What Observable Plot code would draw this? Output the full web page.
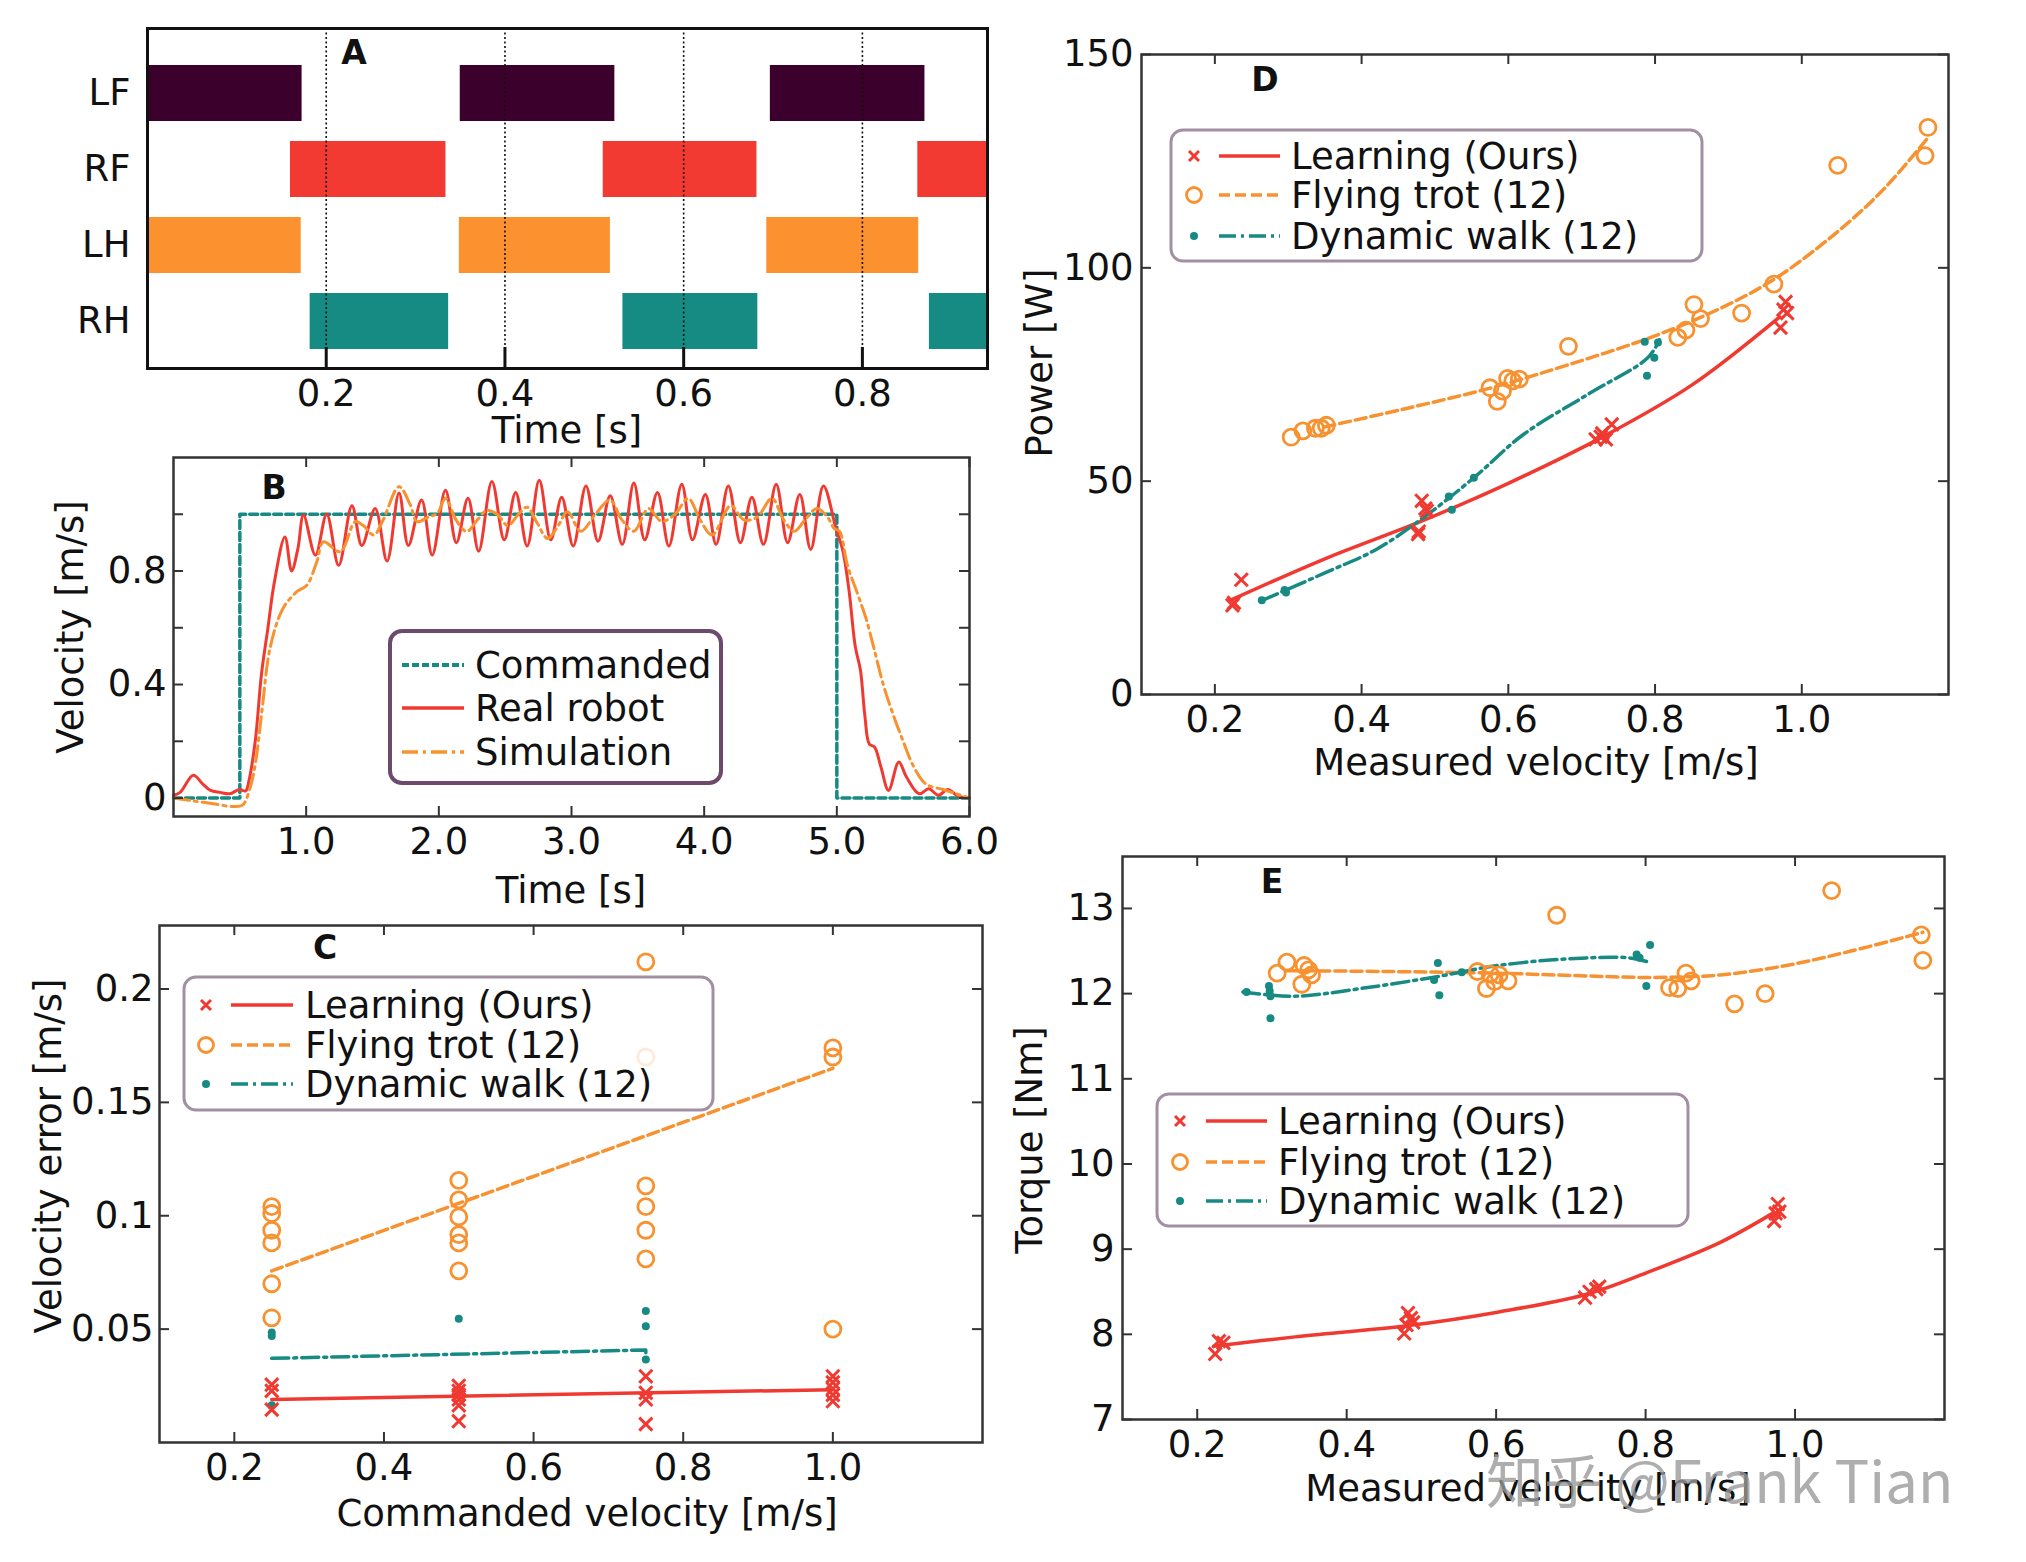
<!DOCTYPE html>
<html><head><meta charset="utf-8">
<script src="https://cdn.jsdelivr.net/npm/d3@7"></script>
<script src="https://cdn.jsdelivr.net/npm/@observablehq/plot@0.6"></script>
<style>
html,body{margin:0;padding:0;background:#fff;}
#page{position:relative;width:2026px;height:1562px;overflow:hidden;background:#fff;font-family:"DejaVu Sans";}
.panel{position:absolute;}
.panel svg{overflow:visible;}
#overlay{position:absolute;left:0;top:0;}
</style></head><body><div id="page"></div>
<script>
// ---------- DATA ----------
// Panel A: gait diagram
const legs = ["LF", "RF", "LH", "RH"];
const legColors = ["#3c002d", "#f23a32", "#fb912f", "#168b84"];
const stanceStart = [[0, 0.350, 0.697], [0.160, 0.510, 0.862], [0, 0.349, 0.693], [0.182, 0.532, 0.875]];
const stanceEnd = [[0.173, 0.523, 0.870], [0.334, 0.682, 0.94], [0.172, 0.518, 0.863], [0.337, 0.683, 0.94]];
const gaitTicks = [0.2, 0.4, 0.6, 0.8];

// Panel B: velocity tracking
const cmdT = [0, 0.5, 0.5, 5.0, 5.0, 6.0];
const cmdV = [0, 0, 1.0, 1.0, 0, 0];
const realT = [0,0.05,0.149,0.22,0.279,0.351,0.423,0.496,0.544,0.568,0.616,0.664,0.712,0.76,0.84,0.89,0.938,0.98,1.07,1.155,1.245,1.345,1.42,1.52,1.61,1.70,1.77,1.87,1.95,2.05,2.132,2.22,2.30,2.40,2.493,2.579,2.666,2.757,2.844,2.926,3.013,3.109,3.2,3.292,3.383,3.47,3.552,3.648,3.734,3.831,3.912,4.009,4.09,4.182,4.273,4.36,4.447,4.543,4.629,4.721,4.803,4.899,4.995,5.043,5.091,5.139,5.178,5.212,5.245,5.284,5.332,5.39,5.467,5.525,5.621,5.693,5.765,5.837,5.91,6.0];
const realV = [0.01,0.02,0.08,0.05,0.027,0.02,0.015,0.03,0.025,0.06,0.2,0.44,0.6,0.76,0.92,0.80,0.88,0.997,0.856,1.0,0.82,1.03,0.89,1.02,0.835,1.075,0.89,1.05,0.856,1.085,0.90,1.056,0.87,1.115,0.91,1.077,0.888,1.12,0.91,1.06,0.888,1.10,0.905,1.065,0.894,1.11,0.91,1.077,0.888,1.106,0.91,1.07,0.894,1.10,0.90,1.06,0.894,1.106,0.90,1.07,0.876,1.10,0.947,0.876,0.735,0.534,0.45,0.287,0.19,0.18,0.11,0.027,0.127,0.074,0.015,0.033,0.01,0.03,0.008,0.0];
const simT = [0,0.15,0.3,0.45,0.52,0.58,0.62,0.665,0.73,0.825,0.93,1.005,1.08,1.13,1.257,1.37,1.43,1.51,1.58,1.70,1.785,1.835,1.92,1.99,2.05,2.13,2.21,2.29,2.36,2.44,2.52,2.60,2.665,2.74,2.82,2.90,2.97,3.07,3.18,3.29,3.38,3.47,3.58,3.68,3.78,3.88,3.97,4.06,4.2,4.30,4.40,4.51,4.60,4.68,4.76,4.85,4.93,4.98,5.02,5.08,5.16,5.22,5.28,5.35,5.42,5.5,5.58,5.67,5.8,5.9,6.0];
const simV = [0,-0.01,-0.02,-0.03,-0.025,0.04,0.13,0.3,0.533,0.668,0.727,0.75,0.832,0.903,0.868,0.974,0.96,0.927,0.98,1.097,1.033,0.974,0.99,1.004,1.056,0.98,0.939,0.98,1.013,1.0,0.96,1.0,1.025,0.97,0.915,0.96,1.009,0.94,1.0,1.05,0.98,0.94,1.02,0.975,1.0,1.056,0.98,0.927,1.03,0.98,0.99,1.056,0.98,0.94,0.98,1.02,0.99,0.95,0.94,0.82,0.715,0.633,0.527,0.4,0.3,0.2,0.11,0.05,0.03,0.015,0.0];
const timeTicksB = [1, 2, 3, 4, 5, 6];
const velTicksB = [0, 0.2, 0.4, 0.6, 0.8, 1.0];
const velLabelsB = [0, 0.4, 0.8];

// Panel C: velocity error vs commanded velocity
const learnC_x = [0.25,0.25,0.25,0.5,0.5,0.5,0.5,0.5,0.5,0.75,0.75,0.75,0.75,1.0,1.0,1.0,1.0,1.0];
const learnC_y = [0.0255,0.0228,0.0145,0.025,0.0228,0.021,0.019,0.0164,0.0094,0.0292,0.0219,0.019,0.0081,0.0292,0.0265,0.0237,0.021,0.0182];
const learnCfit_x = [0.25, 1.0];
const learnCfit_y = [0.019, 0.0233];
const trotC_x = [0.25,0.25,0.25,0.25,0.25,0.25,0.5,0.5,0.5,0.5,0.5,0.5,0.75,0.75,0.75,0.75,0.75,0.75,1.0,1.0,1.0];
const trotC_y = [0.104,0.101,0.0936,0.088,0.070,0.055,0.1156,0.107,0.0995,0.0917,0.088,0.0757,0.212,0.170,0.1132,0.104,0.0936,0.081,0.174,0.170,0.050];
const trotCfit_x = [0.25, 1.0];
const trotCfit_y = [0.0757, 0.165];
const walkC_x = [0.25,0.25,0.25,0.5,0.75,0.75,0.75];
const walkC_y = [0.0485,0.047,0.0164,0.0546,0.058,0.0513,0.0366];
const walkCfit_x = [0.25, 0.75, 0.75];
const walkCfit_y = [0.0371, 0.0408, 0.0366];
const velTicksC = [0.2, 0.4, 0.6, 0.8, 1.0];
const errTicksC = [0.05, 0.1, 0.15, 0.2];

// Panel D: power vs measured velocity
const learnD_x = [0.224,0.226,0.236,0.477,0.478,0.482,0.487,0.489,0.719,0.726,0.733,0.728,0.741,0.971,0.975,0.978,0.980];
const learnD_y = [20.9,21.5,26.9,37.6,38.2,45.4,43.6,43.0,59.8,60.4,59.8,61.2,63.3,86.0,90.2,92.0,89.4];
const learnDfit_x = [0.22,0.35,0.48,0.6,0.73,0.85,0.97];
const learnDfit_y = [22,31.8,40.5,49.5,60.5,72.5,88.5];
const trotD_x = [0.304,0.320,0.337,0.345,0.352,0.575,0.585,0.592,0.599,0.606,0.615,0.682,0.831,0.842,0.853,0.862,0.918,0.962,1.049,1.168,1.172];
const trotD_y = [60.3,61.8,62.4,62.4,63.1,71.9,68.7,71.1,74.1,73.5,73.9,81.6,83.7,85.4,91.4,88.1,89.4,96.2,124.0,126.3,132.9];
const trotDfit_x = [0.349,0.45,0.575,0.682,0.799,0.889,0.964,1.049,1.112,1.172];
const trotDfit_y = [62.7,66.6,71.8,77.3,84.0,90.5,97.5,108.5,118.5,130.5];
const walkD_x = [0.264,0.295,0.297,0.519,0.523,0.553,0.789,0.799,0.804,0.786];
const walkD_y = [22.1,24.5,23.9,46.4,43.3,50.8,74.7,78.9,82.5,82.7];
const walkDfit_x = [0.264,0.35,0.42,0.487,0.553,0.621,0.71,0.79,0.806];
const walkDfit_y = [22,28.5,34,41.8,50.8,61,70.5,78.9,83.1];
const velTicksDE = [0.2, 0.4, 0.6, 0.8, 1.0];
const powTicksD = [0, 50, 100, 150];

// Panel E: torque vs measured velocity
const learnE_x = [0.224,0.229,0.235,0.477,0.480,0.482,0.486,0.489,0.719,0.725,0.734,0.738,0.972,0.974,0.977,0.979];
const learnE_y = [7.77,7.92,7.9,8.01,8.11,8.25,8.19,8.14,8.43,8.5,8.53,8.56,9.33,9.42,9.53,9.44];
const learnEfit_x = [0.222,0.331,0.48,0.602,0.725,0.812,0.9,0.97];
const learnEfit_y = [7.86,7.97,8.1,8.26,8.48,8.76,9.08,9.42];
const trotE_x = [0.307,0.320,0.340,0.343,0.349,0.353,0.575,0.587,0.592,0.598,0.604,0.616,0.681,0.832,0.843,0.854,0.861,0.919,0.960,1.049,1.169,1.171];
const trotE_y = [12.24,12.37,12.11,12.33,12.28,12.22,12.26,12.06,12.23,12.14,12.22,12.15,12.92,12.07,12.06,12.24,12.15,11.88,12.0,13.21,12.69,12.39];
const trotEfit_x = [0.32,0.45,0.602,0.712,0.812,0.9,0.988,1.075,1.171];
const trotEfit_y = [12.27,12.26,12.24,12.21,12.19,12.22,12.33,12.5,12.72];
const walkE_x = [0.266,0.296,0.297,0.298,0.298,0.522,0.517,0.524,0.554,0.788,0.792,0.806,0.801];
const walkE_y = [12.02,12.09,12.03,11.97,11.71,12.36,12.16,11.98,12.25,12.46,12.42,12.57,12.09];
const walkEfit_x = [0.261,0.331,0.419,0.515,0.602,0.699,0.778,0.804];
const walkEfit_y = [12.02,11.97,12.06,12.19,12.33,12.41,12.42,12.37];
const torTicksE = [7, 8, 9, 10, 11, 12, 13];

const seriesLabels = ["Learning (Ours)", "Flying trot (12)", "Dynamic walk (12)"];
const bLabels = ["Commanded", "Real robot", "Simulation"];

// ---------- STYLE ----------
const RED = "#f03a31", ORANGE = "#f8912f", TEAL = "#168a83";
const FRAME = "#333";
const FS = 37;
const page = document.getElementById("page");
const zip = (xs, ys) => xs.map((x, i) => ({x, y: ys[i]}));
const style = {fontSize: FS + "px", fontFamily: "DejaVu Sans", color: "#111", background: "transparent", overflow: "visible"};

function box(o) {
  return {width: o.W, height: o.H, marginLeft: o.fx0 - o.left, marginRight: o.left + o.W - o.fx1,
          marginTop: o.fy0 - o.top, marginBottom: o.top + o.H - o.fy1};
}
function place(svg, o) {
  const d = document.createElement("div");
  d.className = "panel"; d.style.left = o.left + "px"; d.style.top = o.top + "px";
  d.appendChild(svg); page.appendChild(d);
}
function inTicks(xt, yt, o, L) {
  const fw = o.fx1 - o.fx0, fh = o.fy1 - o.fy0;
  const st = {stroke: FRAME, strokeWidth: 2};
  return [
    Plot.tickX(xt, {x: d => d, insetTop: fh - L, ...st}),
    Plot.tickX(xt, {x: d => d, insetBottom: fh - L, ...st}),
    Plot.tickY(yt, {y: d => d, insetRight: fw - L, ...st}),
    Plot.tickY(yt, {y: d => d, insetLeft: fw - L, ...st})
  ];
}
function scatterMarks(L, Lf, T, Tf, W, Wf, curve) {
  return [
    Plot.line(Lf, {x: "x", y: "y", stroke: RED, strokeWidth: 3.5, curve}),
    Plot.line(Tf, {x: "x", y: "y", stroke: ORANGE, strokeWidth: 3.5, strokeDasharray: "11,5", curve}),
    Plot.line(Wf, {x: "x", y: "y", stroke: TEAL, strokeWidth: 3.5, strokeDasharray: "17,5,3,5", curve}),
    Plot.dot(T, {x: "x", y: "y", r: 8, stroke: ORANGE, strokeWidth: 2.8, fill: "none"}),
    Plot.dot(W, {x: "x", y: "y", r: 4, fill: TEAL, stroke: "none"}),
    Plot.dot(L, {x: "x", y: "y", r: 6, symbol: "times", stroke: RED, strokeWidth: 3, fill: "none"})
  ];
}

// ---------- PANEL A ----------
const oA = {left: 0, top: 0, W: 1000, H: 420, fx0: 147, fy0: 28, fx1: 987, fy1: 368};
const stanceRows = [];
legs.forEach((leg, i) => stanceStart[i].forEach((s, j) => stanceRows.push({leg, x1: s, x2: stanceEnd[i][j]})));
place(Plot.plot({
  ...box(oA), style,
  x: {domain: [0, 0.94]},
  y: {type: "band", domain: legs, paddingInner: 0.266, paddingOuter: 0.361, align: 0.65},
  color: {domain: legs, range: legColors},
  marks: [
    Plot.barX(stanceRows, {y: "leg", x1: "x1", x2: "x2", fill: "leg", inset: 0}),
    Plot.ruleX(gaitTicks, {x: d => d, stroke: "#111", strokeWidth: 1.6, strokeDasharray: "2,2.5"}),
    Plot.tickX(gaitTicks, {x: d => d, insetTop: (oA.fy1 - oA.fy0) - 21, stroke: "#111", strokeWidth: 3}),
    Plot.frame({stroke: "#111", strokeWidth: 3}),
    Plot.axisX(gaitTicks, {tickSize: 0, tickPadding: 11, tickFormat: d => d.toFixed(1), label: null}),
    Plot.axisY(legs, {tickSize: 0, tickPadding: 17, label: null})
  ]
}), oA);

// ---------- PANEL B ----------
const oB = {left: 0, top: 440, W: 1000, H: 440, fx0: 173, fy0: 457, fx1: 969, fy1: 816};
place(Plot.plot({
  ...box(oB), style,
  x: {domain: [0, 6]},
  y: {domain: [-0.065, 1.2]},
  marks: [
    Plot.line(zip(cmdT, cmdV), {x: "x", y: "y", stroke: TEAL, strokeWidth: 3.5, strokeDasharray: "8,4"}),
    Plot.line(zip(realT, realV), {x: "x", y: "y", stroke: RED, strokeWidth: 3, curve: "catmull-rom"}),
    Plot.line(zip(simT, simV), {x: "x", y: "y", stroke: ORANGE, strokeWidth: 3, strokeDasharray: "16,5,3,5", curve: "catmull-rom"}),
    ...inTicks(timeTicksB, velTicksB, oB, 10),
    Plot.frame({stroke: FRAME, strokeWidth: 2.5}),
    Plot.axisX(timeTicksB, {tickSize: 0, tickPadding: 11, tickFormat: d => d.toFixed(1), label: null}),
    Plot.axisY(velLabelsB, {tickSize: 0, tickPadding: 7, tickFormat: d => d === 0 ? "0" : d.toFixed(1), label: null})
  ]
}), oB);

// ---------- PANEL C ----------
const oC = {left: 0, top: 900, W: 1000, H: 620, fx0: 159, fy0: 925, fx1: 982, fy1: 1442};
place(Plot.plot({
  ...box(oC), style,
  x: {domain: [0.1, 1.2]},
  y: {domain: [0, 0.228]},
  marks: [
    ...scatterMarks(zip(learnC_x, learnC_y), zip(learnCfit_x, learnCfit_y), zip(trotC_x, trotC_y), zip(trotCfit_x, trotCfit_y), zip(walkC_x, walkC_y), zip(walkCfit_x, walkCfit_y), "linear"),
    ...inTicks(velTicksC, errTicksC, oC, 10),
    Plot.frame({stroke: FRAME, strokeWidth: 2.5}),
    Plot.axisX(velTicksC, {tickSize: 0, tickPadding: 11, tickFormat: d => d.toFixed(1), label: null}),
    Plot.axisY(errTicksC, {tickSize: 0, tickPadding: 6, tickFormat: d => String(+d.toFixed(2)), label: null})
  ]
}), oC);

// ---------- PANEL D ----------
const oD = {left: 1000, top: 30, W: 1026, H: 720, fx0: 1141, fy0: 54, fx1: 1948, fy1: 694};
place(Plot.plot({
  ...box(oD), style,
  x: {domain: [0.1, 1.2]},
  y: {domain: [0, 150]},
  marks: [
    ...scatterMarks(zip(learnD_x, learnD_y), zip(learnDfit_x, learnDfit_y), zip(trotD_x, trotD_y), zip(trotDfit_x, trotDfit_y), zip(walkD_x, walkD_y), zip(walkDfit_x, walkDfit_y), "catmull-rom"),
    ...inTicks(velTicksDE, powTicksD, oD, 10),
    Plot.frame({stroke: FRAME, strokeWidth: 2.5}),
    Plot.axisX(velTicksDE, {tickSize: 0, tickPadding: 11, tickFormat: d => d.toFixed(1), label: null}),
    Plot.axisY(powTicksD, {tickSize: 0, tickPadding: 8, tickFormat: d => String(d), label: null})
  ]
}), oD);

// ---------- PANEL E ----------
const oE = {left: 1000, top: 830, W: 1026, H: 670, fx0: 1122, fy0: 856, fx1: 1944, fy1: 1419};
place(Plot.plot({
  ...box(oE), style,
  x: {domain: [0.1, 1.2]},
  y: {domain: [7, 13.61]},
  marks: [
    ...scatterMarks(zip(learnE_x, learnE_y), zip(learnEfit_x, learnEfit_y), zip(trotE_x, trotE_y), zip(trotEfit_x, trotEfit_y), zip(walkE_x, walkE_y), zip(walkEfit_x, walkEfit_y), "catmull-rom"),
    ...inTicks(velTicksDE, torTicksE, oE, 10),
    Plot.frame({stroke: FRAME, strokeWidth: 2.5}),
    Plot.axisX(velTicksDE, {tickSize: 0, tickPadding: 11, tickFormat: d => d.toFixed(1), label: null}),
    Plot.axisY(torTicksE, {tickSize: 0, tickPadding: 8, tickFormat: d => String(d), label: null})
  ]
}), oE);

// ---------- OVERLAY: panel letters, axis titles, legends, watermark ----------
const NS = "http://www.w3.org/2000/svg";
const ov = document.createElementNS(NS, "svg");
ov.setAttribute("id", "overlay"); ov.setAttribute("width", 2026); ov.setAttribute("height", 1562);
page.appendChild(ov);
function el(tag, attrs, text) {
  const e = document.createElementNS(NS, tag);
  for (const k in attrs) e.setAttribute(k, attrs[k]);
  if (text != null) e.textContent = text;
  ov.appendChild(e); return e;
}
function txt(x, y, s, opts = {}) {
  return el("text", {x, y, "font-family": opts.family || "DejaVu Sans", "font-size": opts.size || FS,
    "font-weight": opts.weight || "normal", "text-anchor": opts.anchor || "start", "dominant-baseline": "central",
    fill: opts.fill || "#111", transform: opts.rotate ? `rotate(-90 ${x} ${y})` : "", opacity: opts.opacity || 1}, s);
}
// panel letters
[["A", 354, 52], ["B", 274, 487], ["C", 325, 947], ["D", 1265, 79], ["E", 1272, 881]]
  .forEach(([s, x, y]) => txt(x, y, s, {weight: "bold", size: 33, anchor: "middle"}));
// axis titles
txt(567, 430, "Time [s]", {anchor: "middle"});
txt(571, 890, "Time [s]", {anchor: "middle"});
txt(70, 627, "Velocity [m/s]", {anchor: "middle", rotate: true});
txt(587, 1513, "Commanded velocity [m/s]", {anchor: "middle"});
txt(48, 1156, "Velocity error [m/s]", {anchor: "middle", rotate: true});
txt(1536, 762, "Measured velocity [m/s]", {anchor: "middle"});
txt(1039, 363, "Power [W]", {anchor: "middle", rotate: true});
txt(1528, 1488, "Measured velocity [m/s]", {anchor: "middle"});
txt(1029, 1140, "Torque [Nm]", {anchor: "middle", rotate: true});

// legends
function legendBox(x0, y0, x1, y1, stroke, sw) {
  el("rect", {x: x0, y: y0, width: x1 - x0, height: y1 - y0, rx: 12, ry: 12, fill: "rgba(255,255,255,0.82)", stroke, "stroke-width": sw});
}
function sample(kind, mx, lx0, lx1, y) {
  const lineStyle = {red: [RED, null], orange: [ORANGE, "11,5"], teal: [TEAL, "17,5,3,5"], tealdot: [TEAL, "7,3"], orangedd: [ORANGE, "16,5,3,5"], redline: [RED, null]}[kind];
  el("line", {x1: lx0, x2: lx1, y1: y, y2: y, stroke: lineStyle[0], "stroke-width": kind === "tealdot" ? 4 : 3.5, "stroke-dasharray": lineStyle[1] || "none"});
  if (mx == null) return;
  if (kind === "red") {
    el("path", {d: `M${mx - 5},${y - 5}L${mx + 5},${y + 5}M${mx - 5},${y + 5}L${mx + 5},${y - 5}`, stroke: RED, "stroke-width": 3, fill: "none"});
  } else if (kind === "orange") {
    el("circle", {cx: mx, cy: y, r: 7.5, fill: "none", stroke: ORANGE, "stroke-width": 2.8});
  } else if (kind === "teal") {
    el("circle", {cx: mx, cy: y, r: 4, fill: TEAL});
  }
}
function scatterLegend(x0, y0, x1, y1, ys, mx, lx0, lx1, tx) {
  legendBox(x0, y0, x1, y1, "#a28fa2", 3);
  ["red", "orange", "teal"].forEach((k, i) => { sample(k, mx, lx0, lx1, ys[i]); txt(tx, ys[i], seriesLabels[i]); });
}
// B legend
legendBox(390, 631, 721, 783, "#6c4a6c", 4);
["tealdot", "redline", "orangedd"].forEach((k, i) => {
  const y = [665, 708, 752][i];
  sample(k, null, 402, 464, y); txt(475, y, bLabels[i]);
});
scatterLegend(184, 977, 713, 1110, [1005, 1045, 1084], 206, 231, 293, 305);
scatterLegend(1171, 130, 1702, 261, [156, 195, 236], 1194, 1219, 1280, 1291);
scatterLegend(1157, 1094, 1688, 1226, [1121, 1162, 1201], 1180, 1206, 1267, 1278);

// watermark
el("text", {x: 1486, y: 1503, "font-family": "Noto Sans CJK SC", "font-size": 58, fill: "#9a9a9a", opacity: 0.8}, "知乎 @Frank Tian");
</script></body></html>
